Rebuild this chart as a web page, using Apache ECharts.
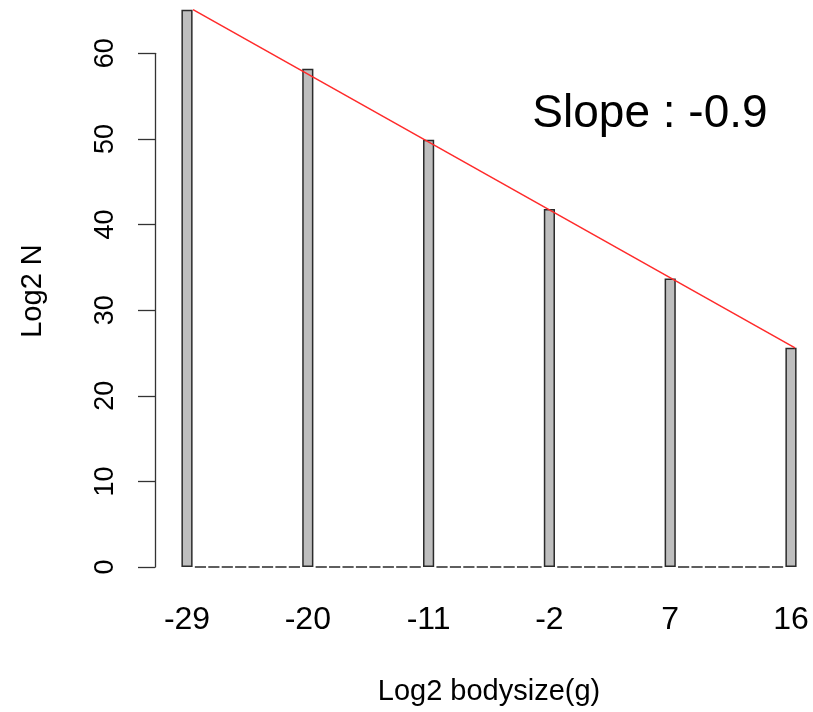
<!DOCTYPE html>
<html>
<head>
<meta charset="utf-8">
<script src="https://cdn.jsdelivr.net/npm/echarts@6/dist/echarts.min.js"></script>
<style>
html,body{margin:0;padding:0;background:#fff;}
#chart{width:813px;height:712px;}
</style>
</head>
<body>
<div id="chart"></div>
<script>
// Body size classes (log2 g), one bar per class
var bodysize = [];
for (var b = -29; b <= 16; b++) bodysize.push(String(b));
// Log2 abundance per class (only classes with data are non-zero)
var occupied = [-29, -20, -11, -2, 7, 16];
var occupiedN = [65.1, 58.2, 49.9, 41.8, 33.7, 25.6];
var log2N = bodysize.map(function (c) {
  var i = occupied.indexOf(Number(c));
  return i >= 0 ? occupiedN[i] : 0;
});
// Fitted line end points (x in log2 bodysize, y in log2 N)
var fitX = [-28.55, 16.3];
var fitY = [65.1, 25.6];
var yTicks = [0, 10, 20, 30, 40, 50, 60];
var slopeText = 'Slope : -0.9';

var FONT = 'Liberation Sans, Arial, sans-serif';
var chart = echarts.init(document.getElementById('chart'), null, {renderer: 'canvas'});
chart.setOption({
  animation: false,
  backgroundColor: '#ffffff',
  grid: {left: 180.3, right: 15.3, top: 53.3, bottom: 145, containLabel: false},
  xAxis: [{
    type: 'category',
    data: bodysize,
    boundaryGap: true,
    axisLine: {show: false},
    axisTick: {show: false},
    axisLabel: {interval: 8, fontSize: 32, fontFamily: FONT, color: '#000', margin: 37},
    name: 'Log2 bodysize(g)',
    nameLocation: 'middle',
    nameGap: 110,
    nameTextStyle: {fontSize: 29, fontFamily: FONT, color: '#000'}
  }, {
    type: 'value',
    min: -29.5,
    max: 16.5,
    show: false
  }],
  yAxis: {
    type: 'value',
    min: yTicks[0],
    max: yTicks[yTicks.length - 1],
    interval: 10,
    offset: 25.3,
    splitLine: {show: false},
    axisLine: {show: true, onZero: false, lineStyle: {color: '#333', width: 1.3}},
    axisTick: {show: true, length: 17, lineStyle: {color: '#333', width: 1.3}},
    axisLabel: {rotate: 90, fontSize: 27, fontFamily: FONT, color: '#000', margin: 36}
  },
  series: [{
    type: 'bar',
    data: log2N,
    xAxisIndex: 0,
    barCategoryGap: '16.7%',
    clip: false,
    itemStyle: {color: '#bebebe', borderColor: '#2a2a2a', borderWidth: 1.5},
    emphasis: {disabled: true}
  }, {
    type: 'line',
    xAxisIndex: 1,
    data: fitX.map(function (x, i) { return [x, fitY[i]]; }),
    clip: false,
    symbol: 'none',
    lineStyle: {color: '#ff2a2a', width: 1.5},
    z: 5
  }],
  graphic: [{
    type: 'text',
    x: 33, y: 291,
    rotation: Math.PI / 2,
    style: {text: 'Log2 N', font: '29px ' + FONT, fill: '#000', textAlign: 'center', textVerticalAlign: 'middle'}
  }, {
    type: 'text',
    x: 650, y: 114,
    style: {text: slopeText, font: '46px ' + FONT, fill: '#000', textAlign: 'center', textVerticalAlign: 'middle'}
  }]
});
</script>
</body>
</html>
